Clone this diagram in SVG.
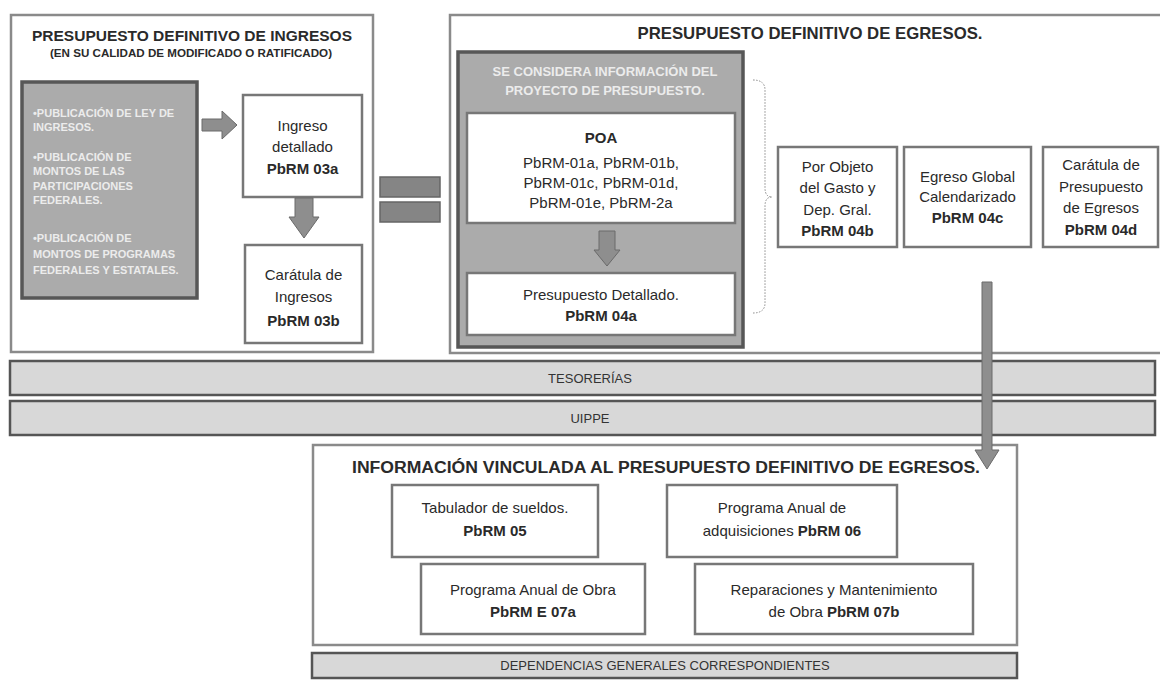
<svg xmlns="http://www.w3.org/2000/svg" width="1160" height="683" viewBox="0 0 1160 683">
<style>
.outer{fill:#fff;stroke:#8a8a8a;stroke-width:2.5}
.box{fill:#fff;stroke:#777;stroke-width:2.5}
.gray{fill:#ababab;stroke:#575757;stroke-width:3.5}
.bar{fill:#d8d8d8;stroke:#555;stroke-width:2.5}
.arrow{fill:#8e8e8e;stroke:#6a6a6a;stroke-width:1}
.eq{fill:#858585;stroke:#666;stroke-width:1.5}
text{font-family:"Liberation Sans",Arial,sans-serif;fill:#2a2a2a}
.t{font-size:15px;text-anchor:middle}
.b{font-weight:bold}
.h{font-weight:bold;text-anchor:middle}
.w{font-size:11px;font-weight:bold;fill:#ececec}
.wc{font-size:13px;font-weight:bold;fill:#ececec;text-anchor:middle}
.bt{font-size:13px;text-anchor:middle;fill:#333}
.br{fill:none;stroke:#8a8a8a;stroke-width:1;stroke-dasharray:1.5 1.5}
</style>
<rect width="1160" height="683" fill="#fff"/>

<g id="ingresos">
<rect class="outer" x="11" y="15" width="362" height="337"/>
<text class="h" x="192" y="41" font-size="15.5" textLength="320" lengthAdjust="spacingAndGlyphs">PRESUPUESTO DEFINITIVO DE INGRESOS</text>
<text class="h" x="191" y="57" font-size="11" textLength="282" lengthAdjust="spacingAndGlyphs">(EN SU CALIDAD DE MODIFICADO O RATIFICADO)</text>
</g>

<g id="publicaciones">
<rect class="gray" x="22" y="82" width="175" height="216"/>
<text class="w" x="33" y="117">•PUBLICACIÓN DE LEY DE</text>
<text class="w" x="33" y="131">INGRESOS.</text>
<text class="w" x="33" y="161">•PUBLICACIÓN DE</text>
<text class="w" x="33" y="175">MONTOS DE LAS</text>
<text class="w" x="33" y="190">PARTICIPACIONES</text>
<text class="w" x="33" y="204">FEDERALES.</text>
<text class="w" x="33" y="242">•PUBLICACIÓN DE</text>
<text class="w" x="33" y="258">MONTOS DE PROGRAMAS</text>
<text class="w" x="33" y="274">FEDERALES Y ESTATALES.</text>
</g>

<g id="ingreso-detallado">
<rect class="box" x="243" y="95" width="119" height="102"/>
<text class="t" x="302.5" y="131">Ingreso</text>
<text class="t" x="302.5" y="152">detallado</text>
<text class="t b" x="302.5" y="174">PbRM 03a</text>
</g>

<g id="caratula-ingresos">
<rect class="box" x="245" y="245" width="117" height="98"/>
<text class="t" x="303.5" y="280">Carátula de</text>
<text class="t" x="303.5" y="302">Ingresos</text>
<text class="t b" x="303.5" y="326">PbRM 03b</text>
</g>

<g id="igual">
<rect class="eq" x="380" y="177" width="60" height="20"/>
<rect class="eq" x="380" y="202" width="60" height="20"/>
</g>

<g id="egresos">
<rect class="outer" x="450" y="15" width="720" height="338"/>
<text class="h" x="810" y="39" font-size="16.5" textLength="345" lengthAdjust="spacingAndGlyphs">PRESUPUESTO DEFINITIVO DE EGRESOS.</text>
</g>

<g id="proyecto">
<rect class="gray" x="458" y="52" width="285" height="295"/>
<text class="wc" x="605" y="76">SE CONSIDERA INFORMACIÓN DEL</text>
<text class="wc" x="605" y="95">PROYECTO DE PRESUPUESTO.</text>
</g>

<g id="poa">
<rect class="box" x="467" y="113" width="268" height="110"/>
<text class="t b" x="601" y="143" font-size="15.5">POA</text>
<text class="t" x="601" y="168">PbRM-01a, PbRM-01b,</text>
<text class="t" x="601" y="188">PbRM-01c, PbRM-01d,</text>
<text class="t" x="601" y="208">PbRM-01e, PbRM-2a</text>
</g>

<g id="presupuesto-detallado">
<rect class="box" x="467" y="273" width="268" height="62"/>
<text class="t" x="601" y="300">Presupuesto Detallado.</text>
<text class="t b" x="601" y="321">PbRM 04a</text>
</g>

<g id="objeto-gasto">
<rect class="box" x="778" y="147" width="119" height="100"/>
<text class="t" x="837.5" y="172">Por Objeto</text>
<text class="t" x="837.5" y="193">del Gasto y</text>
<text class="t" x="837.5" y="215">Dep. Gral.</text>
<text class="t b" x="837.5" y="236">PbRM  04b</text>
</g>

<g id="egreso-global">
<rect class="box" x="904" y="147" width="127" height="100"/>
<text class="t" x="967.5" y="182">Egreso Global</text>
<text class="t" x="967.5" y="202">Calendarizado</text>
<text class="t b" x="967.5" y="223">PbRM 04c</text>
</g>

<g id="caratula-egresos">
<rect class="box" x="1043" y="147" width="115" height="100"/>
<text class="t" x="1101" y="170">Carátula de</text>
<text class="t" x="1101" y="192">Presupuesto</text>
<text class="t" x="1101" y="213">de Egresos</text>
<text class="t b" x="1101" y="235">PbRM  04d</text>
</g>

<g id="tesorerias">
<rect class="bar" x="10" y="361" width="1145" height="34"/>
<text class="bt" x="590" y="383">TESORERÍAS</text>
</g>

<g id="uippe">
<rect class="bar" x="10" y="401" width="1145" height="34"/>
<text class="bt" x="590" y="423">UIPPE</text>
</g>

<g id="informacion-vinculada">
<rect class="outer" x="313" y="445" width="704" height="200"/>
<text class="h" x="666" y="473" font-size="16" textLength="628" lengthAdjust="spacingAndGlyphs">INFORMACIÓN VINCULADA AL PRESUPUESTO DEFINITIVO DE EGRESOS.</text>
</g>

<g id="tabulador">
<rect class="box" x="392" y="485" width="206" height="72"/>
<text class="t" x="495" y="513">Tabulador de sueldos.</text>
<text class="t b" x="495" y="536">PbRM  05</text>
</g>

<g id="adquisiciones">
<rect class="box" x="667" y="485" width="230" height="72"/>
<text class="t" x="782" y="513">Programa Anual de</text>
<text class="t" x="782" y="536">adquisiciones <tspan class="b">PbRM  06</tspan></text>
</g>

<g id="obra">
<rect class="box" x="421" y="564" width="224" height="70"/>
<text class="t" x="533" y="595">Programa Anual de Obra</text>
<text class="t b" x="533" y="617">PbRM E 07a</text>
</g>

<g id="reparaciones">
<rect class="box" x="695" y="564" width="278" height="70"/>
<text class="t" x="834" y="595">Reparaciones y Mantenimiento</text>
<text class="t" x="834" y="617">de Obra  <tspan class="b">PbRM  07b</tspan></text>
</g>

<g id="dependencias">
<rect class="bar" x="312" y="653" width="705" height="25"/>
<text class="bt" x="665" y="670">DEPENDENCIAS GENERALES CORRESPONDIENTES</text>
</g>

<g id="connectors">
<path class="arrow" d="M202,119 L222,119 L222,111 L237,125 L222,139 L222,131 L202,131 Z"/>
<path class="arrow" d="M295,198 L313,198 L313,217 L319,217 L304,238 L289,217 L295,217 Z"/>
<path class="arrow" d="M599,231 L615,231 L615,250 L620,250 L607,266 L594,250 L599,250 Z"/>
<path class="br" d="M753,80 Q765,80 765,90 L765,188 Q765,197 772,197 Q765,197 765,206 L765,303 Q765,313 753,313"/>
<path class="arrow" d="M982,282 L992,282 L992,450 L999,450 L987,469 L975,450 L982,450 Z"/>
</g>
</svg>
